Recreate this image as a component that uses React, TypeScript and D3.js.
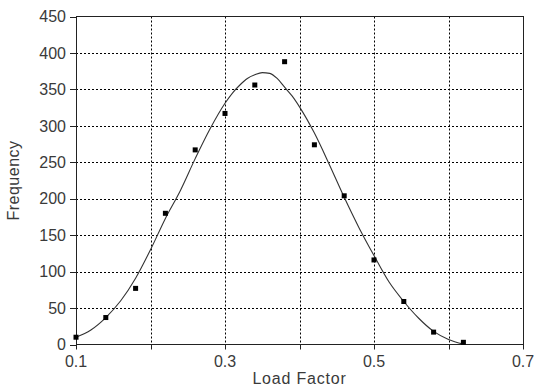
import React from "react";
import * as d3 from "d3";

const xTicks = [0.1, 0.2, 0.3, 0.4, 0.5, 0.6, 0.7];
const xTickLabels = ["0.1", "", "0.3", "", "0.5", "", "0.7"];
const yTicks = [0, 50, 100, 150, 200, 250, 300, 350, 400, 450];

const pointX = [0.1, 0.14, 0.18, 0.22, 0.26, 0.3, 0.34, 0.38, 0.42, 0.46, 0.5, 0.54, 0.58, 0.62];
const pointY = [10, 37, 77, 180, 267, 317, 356, 388, 274, 204, 116, 59, 17, 3];

const curveX = [0.1, 0.12, 0.14, 0.16, 0.18, 0.2, 0.22, 0.24, 0.26, 0.28, 0.3, 0.31, 0.32, 0.33, 0.34, 0.35, 0.36, 0.37, 0.38, 0.39, 0.4, 0.42, 0.44, 0.46, 0.48, 0.5, 0.52, 0.54, 0.56, 0.58, 0.6, 0.62];
const curveY = [10, 20, 37, 60, 91, 130, 173, 211, 255, 296, 331, 345, 356, 365, 370, 373, 372, 365, 353, 341, 326, 290, 247, 202, 160, 122, 86, 59, 36, 18, 7, 0.5];

const W = 535;
const H = 387;
const M = { left: 76, right: 523, top: 16.5, bottom: 344.5 };
const FONT = "'Liberation Sans', Arial, sans-serif";

export default function App() {
  const x = d3.scaleLinear().domain([0.1, 0.7]).range([M.left, M.right]);
  const y = d3.scaleLinear().domain([0, 450]).range([M.bottom, M.top]);
  const line = d3
    .line<number>()
    .x((_, i) => x(curveX[i]))
    .y((d) => y(d))
    .curve(d3.curveMonotoneX);
  const axisColor = "#222";
  const textColor = "#3a3a3a";
  return (
    <svg width={W} height={H} style={{ position: "absolute", left: 0, top: 0, background: "#fff" }}>
      <rect x={0} y={0} width={W} height={H} fill="#fff" />
      {/* grid */}
      {xTicks.slice(1, -1).map((t) => (
        <line key={"gx" + t} x1={Math.round(x(t)) + 0.5} x2={Math.round(x(t)) + 0.5} y1={M.top} y2={M.bottom} stroke="#000" strokeWidth={1} strokeDasharray="2,2" />
      ))}
      {yTicks.slice(1, -1).map((t) => (
        <line key={"gy" + t} x1={M.left} x2={M.right} y1={Math.round(y(t)) + 0.5} y2={Math.round(y(t)) + 0.5} stroke="#000" strokeWidth={1} strokeDasharray="2,2" />
      ))}
      {/* frame */}
      <rect x={M.left + 0.5} y={M.top} width={M.right - M.left} height={M.bottom - M.top} fill="none" stroke={axisColor} strokeWidth={1} />
      {/* ticks */}
      {yTicks.map((t) => (
        <g key={"yt" + t}>
          <line x1={M.left - 6} x2={M.left} y1={Math.round(y(t)) + 0.5} y2={Math.round(y(t)) + 0.5} stroke={axisColor} />
          <text x={M.left - 10} y={y(t)} dy="0.36em" textAnchor="end" fontFamily={FONT} fontSize={16} fill={textColor}>
            {t}
          </text>
        </g>
      ))}
      {xTicks.map((t, i) => (
        <g key={"xt" + t}>
          <line x1={Math.round(x(t)) + 0.5} x2={Math.round(x(t)) + 0.5} y1={M.bottom} y2={M.bottom + 5} stroke={axisColor} />
          <text x={x(t)} y={367} textAnchor="middle" fontFamily={FONT} fontSize={16} fill={textColor}>
            {xTickLabels[i]}
          </text>
        </g>
      ))}
      {/* curve */}
      <path d={line(curveY) || ""} fill="none" stroke="#333" strokeWidth={1.1} />
      {/* points */}
      {pointX.map((px, i) => (
        <rect key={"p" + i} x={x(px) - 2.5} y={y(pointY[i]) - 2.5} width={5} height={5} fill="#000" />
      ))}
      {/* titles */}
      <text x={(M.left + M.right) / 2} y={384} textAnchor="middle" fontFamily={FONT} fontSize={16} letterSpacing={0.8} fill={textColor}>
        Load Factor
      </text>
      <text transform={`translate(19, ${(M.top + M.bottom) / 2}) rotate(-90)`} textAnchor="middle" fontFamily={FONT} fontSize={16} letterSpacing={0.5} fill={textColor}>
        Frequency
      </text>
    </svg>
  );
}
